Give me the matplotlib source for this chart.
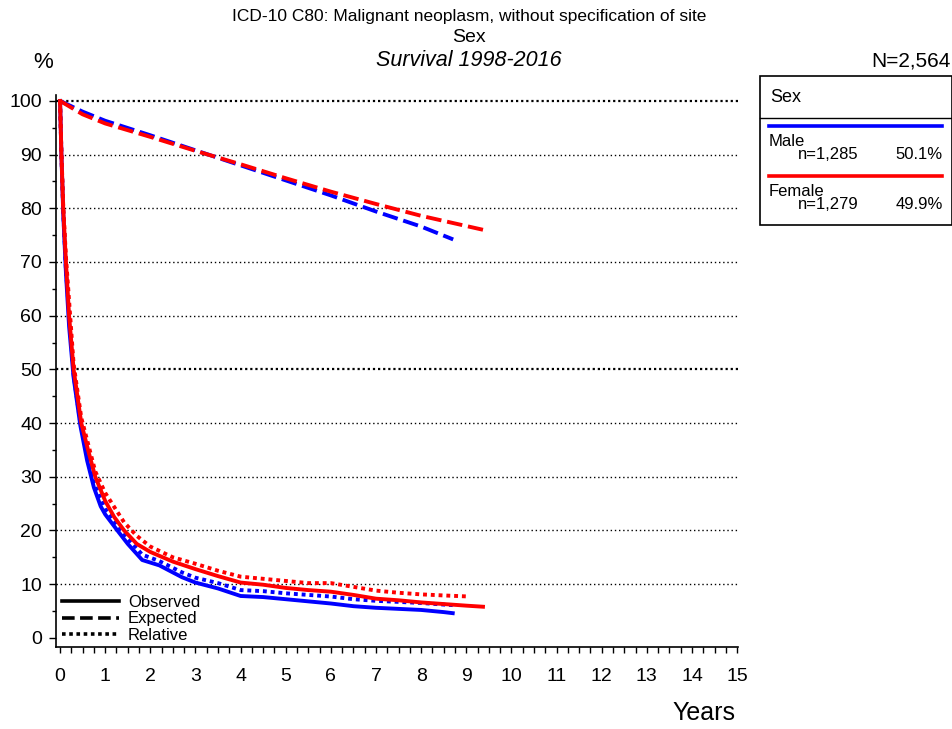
"""Relative survival by sex, ICD-10 C80."""
import matplotlib

matplotlib.use("Agg")
import matplotlib.pyplot as plt
from matplotlib.lines import Line2D
from matplotlib.patches import Rectangle
from matplotlib.ticker import MultipleLocator

plt.rcParams["font.family"] = ["Liberation Sans", "DejaVu Sans"]

BLUE = "#0000ff"
RED = "#ff0000"

# ---- data ----
male_obs_t = [0, 0.03, 0.07, 0.13, 0.2, 0.3, 0.45, 0.6, 0.75, 0.9, 1.0, 1.27, 1.5, 1.82, 2.2,
              2.7, 3.0, 3.5, 4.0, 4.5, 5.0, 5.5, 6.0, 6.5, 7.0, 7.5, 8.0, 8.5, 8.7]
male_obs = [100, 90, 79, 68, 58, 48.5, 39.5, 33, 28, 24.5, 23, 20, 17.5, 14.5, 13.5,
            11.3, 10.3, 9.2, 7.8, 7.6, 7.2, 6.8, 6.4, 5.9, 5.6, 5.4, 5.2, 4.8, 4.6]
male_rel_t = [0, 0.03, 0.07, 0.13, 0.3, 0.45, 0.75, 1.0, 1.27, 1.5, 1.82, 2.2, 2.7, 3.0, 3.5,
              4.0, 4.5, 5.0, 5.5, 6.0, 6.5, 7.0, 7.5, 8.0, 8.5, 8.7]
male_rel = [100, 90, 79.5, 68.5, 49, 40, 28.8, 24, 21, 18.5, 15.5, 14.3, 12.2, 11.2, 10.2,
            8.9, 8.7, 8.3, 8.0, 7.7, 7.2, 6.9, 6.7, 6.5, 6.2, 6.1]
male_exp_t = [0, 0.5, 1, 2, 3, 4, 5, 6, 7, 8, 8.71]
male_exp = [100, 98.0, 96.3, 93.6, 90.8, 88.0, 85.2, 82.4, 79.4, 76.6, 74.2]

female_obs_t = [0, 0.03, 0.07, 0.13, 0.2, 0.3, 0.47, 0.62, 0.78, 1.0, 1.2, 1.42, 1.7, 2.0, 2.5,
                3.0, 3.5, 4.0, 4.5, 5.0, 5.5, 6.0, 6.5, 7.0, 7.5, 8.0, 8.5, 9.0, 9.37]
female_obs = [100, 90, 80, 70, 60, 50, 40, 35, 30, 25.5, 22.5, 20, 17.5, 16, 14.2,
              12.8, 11.5, 10.3, 9.9, 9.3, 8.9, 8.6, 8.0, 7.3, 7.0, 6.6, 6.3, 6.0, 5.8]
female_rel_t = [0, 0.03, 0.07, 0.13, 0.3, 0.47, 0.78, 1.0, 1.42, 1.7, 2.0, 2.5, 3.0, 3.5, 4.0,
                4.5, 5.0, 5.5, 6.0, 6.5, 7.0, 7.5, 8.0, 8.5, 9.07]
female_rel = [100, 90.5, 80.5, 71, 51, 41, 31, 27, 21.5, 19, 17, 15, 13.8, 12.5, 11.4,
              11.0, 10.6, 10.2, 10.2, 9.5, 8.8, 8.4, 8.1, 7.9, 7.7]
female_exp_t = [0, 0.5, 1, 2, 3, 4, 5, 6, 7, 8, 9, 9.37]
female_exp = [100, 97.5, 95.8, 93.3, 90.7, 88.2, 85.6, 83.1, 80.8, 78.6, 76.7, 76.0]

groups = ["Male", "Female"]
group_n = ["n=1,285", "n=1,279"]
group_pct = ["50.1%", "49.9%"]
grid_levels = [10, 20, 30, 40, 60, 70, 80, 90]
grid_major = [50, 100]

W, H = 953, 729
fig = plt.figure(figsize=(W / 100, H / 100), dpi=100)
ax = fig.add_axes([56 / W, 1 - 647 / H, (738 - 56) / W, (647 - 95) / H])

for y in grid_levels:
    ax.axhline(y, color="black", lw=1.0, ls=(0, (1, 2)), zorder=1)
for y in grid_major:
    ax.axhline(y, color="black", lw=1.6, ls=(0, (1, 1.3)), zorder=1)

lw = 2.8
dash = (0, (4, 1.5))
dot = (0, (1, 1))
ax.plot(male_exp_t, male_exp, color=BLUE, lw=lw, ls=dash, zorder=3)
ax.plot(female_exp_t, female_exp, color=RED, lw=lw, ls=dash, zorder=3)
ax.plot(male_rel_t, male_rel, color=BLUE, lw=lw, ls=dot, zorder=3)
ax.plot(male_obs_t, male_obs, color=BLUE, lw=lw, zorder=3)
ax.plot(female_rel_t, female_rel, color=RED, lw=lw, ls=dot, zorder=4)
ax.plot(female_obs_t, female_obs, color=RED, lw=lw, zorder=4)

ax.set_xlim(-0.09, 15.02)
ax.set_ylim(-1.7, 101.1)
ax.xaxis.set_major_locator(MultipleLocator(1))
ax.xaxis.set_minor_locator(MultipleLocator(0.25))
ax.yaxis.set_major_locator(MultipleLocator(10))
ax.yaxis.set_minor_locator(MultipleLocator(5))
ax.tick_params(axis="x", which="both", length=4, width=1, labelsize=14, pad=11)
ax.tick_params(axis="y", which="major", length=5, width=1, labelsize=14, pad=5)
ax.tick_params(axis="y", which="minor", length=3, width=1)
for side in ("top", "right"):
    ax.spines[side].set_visible(False)
for side in ("left", "bottom"):
    ax.spines[side].set_linewidth(1.2)

handles = [Line2D([], [], color="black", lw=2.6, ls="-"),
           Line2D([], [], color="black", lw=2.6, ls=(0, (3.5, 1.5))),
           Line2D([], [], color="black", lw=2.6, ls=(0, (1, 1)))]
ax.legend(handles, ["Observed", "Expected", "Relative"], loc="lower left",
          bbox_to_anchor=(0.009, 0.008), frameon=False, fontsize=12,
          handlelength=3.4, handletextpad=0.55, labelspacing=0.07,
          borderpad=0, borderaxespad=0)

# titles
fig.text(469 / W, 1 - 17 / H, "ICD-10 C80: Malignant neoplasm, without specification of site",
         ha="center", va="center", fontsize=12.5)
fig.text(469 / W, 1 - 38 / H, "Sex", ha="center", va="center", fontsize=14)
fig.text(469 / W, 1 - 61 / H, "Survival 1998-2016", ha="center", va="center",
         fontsize=15.5, style="italic")
fig.text(43 / W, 1 - 63 / H, "%", ha="center", va="center", fontsize=16)
fig.text(951 / W, 1 - 61 / H, "N=2,564", ha="right", va="center", fontsize=15)
fig.text(735 / W, 1 - 713 / H, "Years", ha="right", va="center", fontsize=18)

# group key box
def fx(px):
    return px / W


def fy(py):
    return 1 - py / H


fig.add_artist(Rectangle((fx(760), fy(225)), fx(952) - fx(760), fy(76) - fy(225),
                         transform=fig.transFigure, fill=False, lw=1.2, color="black"))
fig.add_artist(Line2D([fx(760), fx(952)], [fy(118), fy(118)], transform=fig.transFigure,
                      color="black", lw=1.0))
fig.text(fx(770), fy(97), "Sex", ha="left", va="center", fontsize=13)
for i, (name, n, pct, col) in enumerate(zip(groups, group_n, group_pct, [BLUE, RED])):
    y0 = 126 + i * 50
    fig.add_artist(Line2D([fx(769), fx(942)], [fy(y0), fy(y0)], transform=fig.transFigure,
                          color=col, lw=2.6))
    fig.text(fx(769), fy(y0 + 15.5), name, ha="left", va="center", fontsize=12)
    fig.text(fx(798), fy(y0 + 28.5), n, ha="left", va="center", fontsize=12)
    fig.text(fx(943), fy(y0 + 28.5), pct, ha="right", va="center", fontsize=12)

fig.savefig("out.png", dpi=100)
